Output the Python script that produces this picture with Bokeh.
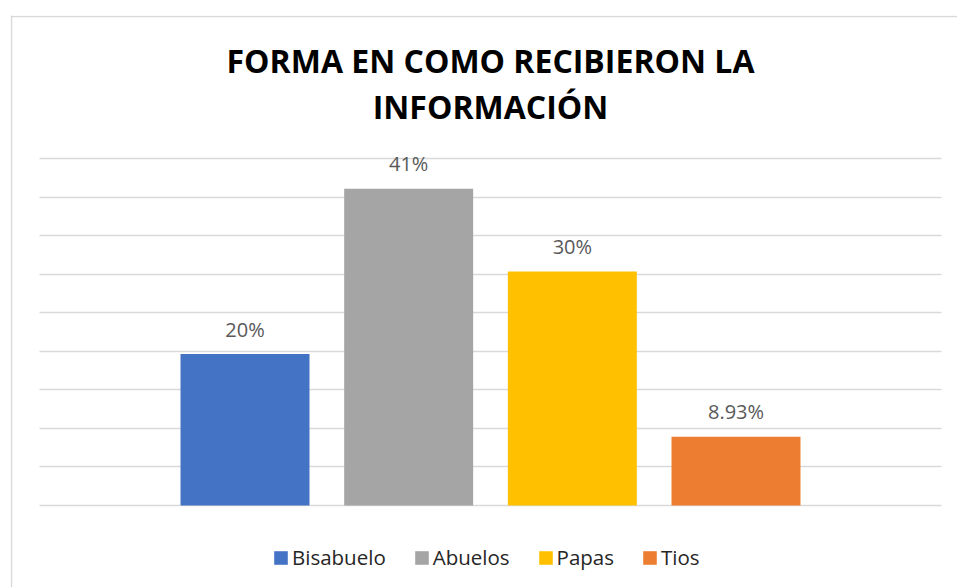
from bokeh.plotting import figure
from bokeh.models import ColumnDataSource, FixedTicker, Legend, LegendItem, Range1d, Label
from bokeh.core.properties import value
from bokeh.embed import file_html
from bokeh.resources import INLINE

# ---- data ----
categories = ["Bisabuelo", "Abuelos", "Papas", "Tios"]
percentages = [19.64, 41.07, 30.36, 8.93]
label_texts = ["20%", "41%", "30%", "8.93%"]
colors = ["#4472C4", "#A5A5A5", "#FFC000", "#ED7D31"]
grid_ticks = [0, 5, 10, 15, 20, 25, 30, 35, 40, 45]
title_lines = ["FORMA EN COMO RECIBIERON LA", "INFORMACIÓN"]

positions = list(range(len(categories)))
src = ColumnDataSource(dict(x=positions, top=percentages, label=label_texts,
                            color=colors, cat=categories))

# layout constants (chart area = frame; plot area is a sub-region)
X_START, X_END = -1.4328, 4.3533
Y_START, Y_END = -10.634, 63.55
GRID_X0, GRID_X1 = -1.2556, 4.2556
BAR_WIDTH = 0.788

W, H = 957, 587
p = figure(width=W, height=H, output_backend="svg", toolbar_location=None,
           x_range=Range1d(X_START, X_END), y_range=Range1d(Y_START, Y_END),
           min_border_left=10, min_border_right=0, min_border_top=15,
           min_border_bottom=0, title=None)
p.outline_line_color = None
p.background_fill_color = "white"
p.border_fill_color = "white"

p.xaxis.visible = False
p.yaxis.visible = False
p.xgrid.visible = False

# chart-area border (left and top edges visible in the window)
p.vspan(x=[X_START + 0.004], line_color="#d9d9d9", line_width=1.5)
p.hspan(y=[Y_END - 0.09], line_color="#d9d9d9", line_width=1.5)

g = p.ygrid[0]
if "cross_bounds" in g.properties():
    g.ticker = FixedTicker(ticks=grid_ticks)
    g.cross_bounds = (GRID_X0, GRID_X1)
    g.grid_line_color = "#d9d9d9"
    g.grid_line_width = 1.5
else:
    g.visible = False
    p.segment(x0=GRID_X0, x1=GRID_X1, y0=grid_ticks, y1=grid_ticks,
              line_color="#d9d9d9", line_width=1.5)

r = p.vbar(x="x", top="top", bottom=0, width=BAR_WIDTH, fill_color="color",
           source=src, line_color=None)

p.text(x="x", y="top", text="label", source=src, text_align="center",
       text_baseline="middle", y_offset=-25, text_color="#595959",
       text_font=value("Open Sans"), text_font_size="20px")

title_x = (positions[0] + positions[-1]) / 2
for line, ty in zip(title_lines, [57.7, 51.7]):
    p.add_layout(Label(x=title_x, y=ty, text=line, text_align="center",
                       text_baseline="middle", text_font="Open Sans",
                       text_font_style="bold", text_font_size="32px",
                       text_color="#000000"))

items = [LegendItem(label=c, renderers=[r], index=i) for i, c in enumerate(categories)]
legend = Legend(items=items, orientation="horizontal", location=(262, 16),
                glyph_width=17, glyph_height=17, label_standoff=3, spacing=27,
                label_text_font="Open Sans", label_text_font_size="20.5px",
                label_text_color="#262626", border_line_color=None,
                background_fill_alpha=0, padding=0, margin=0)
p.add_layout(legend)

open("out.html", "w").write(file_html(p, INLINE))
